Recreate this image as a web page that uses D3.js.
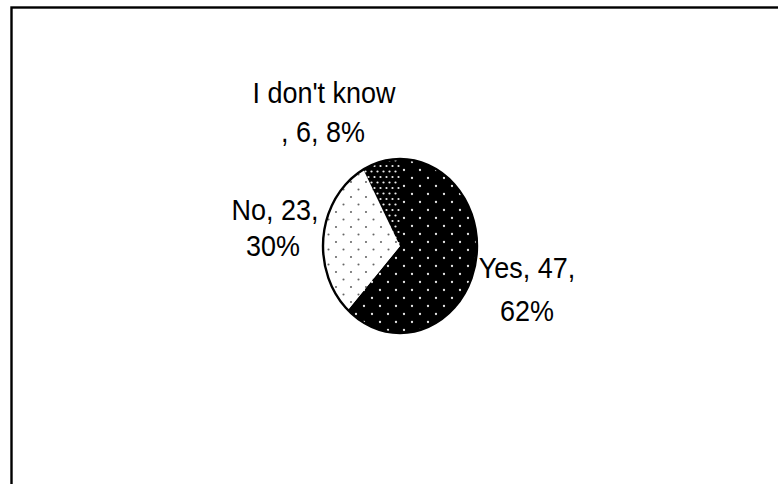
<!DOCTYPE html>
<html>
<head>
<meta charset="utf-8">
<script src="https://cdn.jsdelivr.net/npm/d3@7"></script>
<style>
  html, body { margin: 0; padding: 0; background: #fff; }
  svg { display: block; }
  text { font-family: "Liberation Sans", Arial, Helvetica, sans-serif; fill: #000; }
</style>
</head>
<body>
<svg id="chart" width="778" height="484"></svg>
<script>
// Survey answers
const categories = ["Yes", "No", "I don't know"];
const counts = [47, 23, 6];
const percents = ["62%", "30%", "8%"];
const patternIds = ["fillYes", "fillNo", "fillDontKnow"];

const svg = d3.select("#chart");
const W = 778, H = 484;

// Outer chart frame (runs off the right and bottom edges)
svg.append("rect")
  .attr("x", 11.5).attr("y", 7.5)
  .attr("width", W + 10).attr("height", H + 10)
  .attr("fill", "#fff").attr("stroke", "#000").attr("stroke-width", 2.4);

// Dotted fills
const defs = svg.append("defs");
const cx = 400, cy = 246, rx = 77, ry = 87;
const sx = rx / ry;

function dotPattern(id, w, h, bg, fg, r, dots) {
  const p = defs.append("pattern")
    .attr("id", id)
    .attr("patternUnits", "userSpaceOnUse")
    .attr("width", w).attr("height", h)
    .attr("patternTransform", `scale(${1 / sx},1)`);
  p.append("rect").attr("width", w).attr("height", h).attr("fill", bg);
  dots.forEach(([x, y]) => p.append("circle").attr("cx", x).attr("cy", y).attr("r", r).attr("fill", fg));
}
dotPattern("fillYes", 16, 16, "#000", "#e6e6e6", 1.15, [[4, 4], [12, 12]]);
dotPattern("fillNo", 15, 15, "#fff", "#666", 1.05, [[3.5, 3.5], [11, 11]]);
dotPattern("fillDontKnow", 6, 11, "#000", "#eeeeee", 1.1, [[1.5, 2.5], [4.5, 8]]);

const pie = d3.pie().sort(null).value(d => d).startAngle(0).endAngle(2 * Math.PI);
const arcs = pie(counts);
const arc = d3.arc().innerRadius(0).outerRadius(ry);

const g = svg.append("g").attr("transform", `translate(${cx},${cy}) scale(${sx},1)`);
g.selectAll("path.slice")
  .data(arcs)
  .join("path")
  .attr("class", "slice")
  .attr("d", arc)
  .attr("fill", (d, i) => `url(#${patternIds[i]})`)
  .attr("stroke", "none");

// Outline of the whole pie
g.append("path")
  .attr("d", d3.arc().innerRadius(0).outerRadius(ry)({ startAngle: 0, endAngle: 2 * Math.PI }))
  .attr("fill", "none")
  .attr("stroke", "#000")
  .attr("stroke-width", 2.4)
  .attr("vector-effect", "non-scaling-stroke");

// Data labels: "category, count, percent" split over two lines
const labelLines = [
  [`${categories[0]}, ${counts[0]},`, percents[0]],
  [`${categories[1]}, ${counts[1]},`, percents[1]],
  [categories[2], `, ${counts[2]}, ${percents[2]}`]
];
const labelPos = [
  [[527, 278], [527, 321]],
  [[275, 220], [273, 256]],
  [[324, 103], [323, 142]]
];

labelLines.forEach((lines, i) => {
  lines.forEach((t, j) => {
    const [x, y] = labelPos[i][j];
    svg.append("text")
      .attr("transform", `translate(${x},${y}) scale(0.93,1)`)
      .attr("text-anchor", "middle")
      .attr("font-size", 29)
      .text(t);
  });
});
</script>
</body>
</html>
